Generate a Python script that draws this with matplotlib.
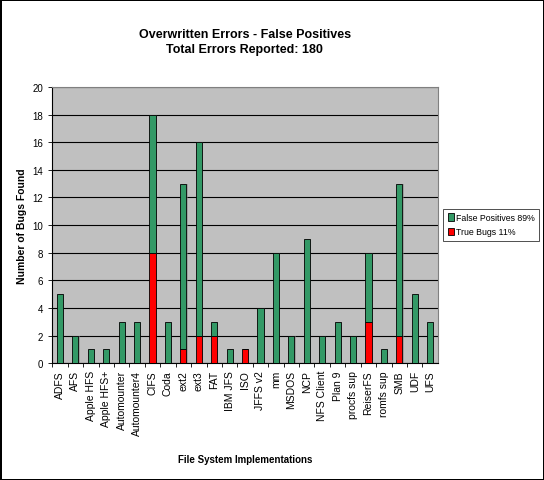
import numpy as np
import matplotlib.pyplot as plt

plt.rcParams['font.family'] = ['Liberation Sans', 'DejaVu Sans']

systems = ['ADFS', 'AFS', 'Apple HFS', 'Apple HFS+', 'Automounter', 'Automounter4',
           'CIFS', 'Coda', 'ext2', 'ext3', 'FAT', 'IBM JFS', 'ISO', 'JFFS v2', 'mm',
           'MSDOS', 'NCP', 'NFS Client', 'Plan 9', 'procfs sup', 'ReiserFS',
           'romfs sup', 'SMB', 'UDF', 'UFS']
true_bugs = np.array([0, 0, 0, 0, 0, 0, 8, 0, 1, 2, 2, 0, 1, 0, 0,
                      0, 0, 0, 0, 0, 3, 0, 2, 0, 0])
false_pos = np.array([5, 2, 1, 1, 3, 3, 10, 3, 12, 14, 1, 1, 0, 4, 8,
                      2, 9, 2, 3, 2, 5, 1, 11, 5, 3])

fig = plt.figure(figsize=(5.44, 4.81), dpi=100)
fig.patch.set_edgecolor('black')
fig.patch.set_linewidth(1.0)
ax = fig.add_axes([0.096, 0.243, 0.709, 0.574])
ax.set_facecolor('#C0C0C0')

x = np.arange(len(systems))
w = 0.4
# shadows
total = true_bugs + false_pos
ax.bar(x + 0.07, total, w, color='#808080', alpha=0.5, zorder=2)
ax.bar(x, true_bugs, w, color='#FF0000', edgecolor='black', linewidth=0.6,
       label='True Bugs 11%', zorder=3)
ax.bar(x, false_pos, w, bottom=true_bugs, color='#339966', edgecolor='black',
       linewidth=0.6, label='False Positives 89%', zorder=3)

ax.set_ylim(0, 20)
ax.set_xlim(-0.5, len(systems) - 0.5)
ax.set_yticks(range(0, 21, 2))
ax.yaxis.grid(True, color='black', linewidth=0.8, zorder=1)
ax.set_axisbelow(True)
ax.set_xticks(x - 0.5, minor=True)
ax.set_xticks(x)
ax.set_xticklabels(systems, rotation=90, fontsize=7.5)
ax.tick_params(axis='x', which='major', length=0, pad=5)
ax.tick_params(axis='x', which='minor', length=3, width=0.6)
ax.tick_params(axis='y', labelsize=7, length=3, width=0.6)
for s in ['top', 'right']:
    ax.spines[s].set_color('#808080')
ax.spines['left'].set_linewidth(0.8)
ax.spines['bottom'].set_linewidth(0.8)

ax.set_ylabel('Number of Bugs Found', fontsize=7.5, fontweight='bold')
ax.set_xlabel('File System Implementations', fontsize=7, fontweight='bold',
              labelpad=14)
fig.text(0.45, 0.912, 'Overwritten Errors - False Positives\nTotal Errors Reported: 180',
         ha='center', va='center', fontsize=9, fontweight='bold', linespacing=1.4)

handles, labels = ax.get_legend_handles_labels()
leg = fig.legend(handles[::-1], labels[::-1], loc='upper left',
                 bbox_to_anchor=(0.812, 0.568), fontsize=6.3, frameon=True,
                 fancybox=False, edgecolor='black', handlelength=0.7,
                 handleheight=0.9, handletextpad=0.25, borderpad=0.5,
                 borderaxespad=0.2, labelspacing=0.6)
leg.get_frame().set_linewidth(0.6)

fig.savefig('out.png', dpi=100)
